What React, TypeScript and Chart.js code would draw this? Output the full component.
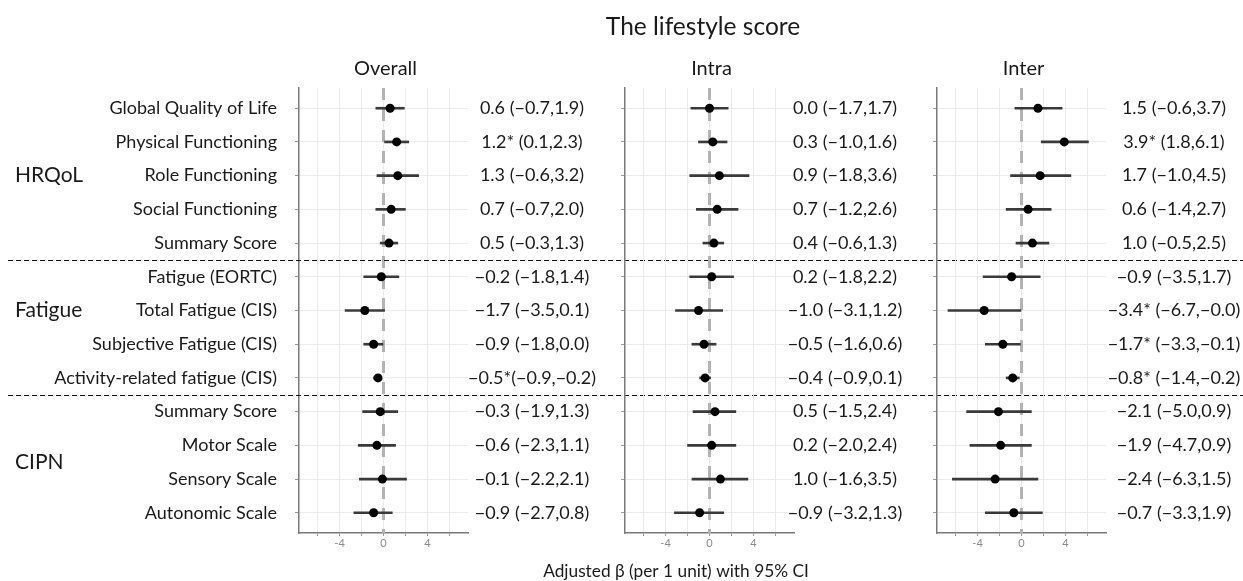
import React, { useEffect, useRef } from 'react';
import { Chart, registerables } from 'chart.js';

Chart.register(...registerables);

// ---------- data ----------
const outcomes = [
  'Global Quality of Life',
  'Physical Functioning',
  'Role Functioning',
  'Social Functioning',
  'Summary Score',
  'Fatigue (EORTC)',
  'Total Fatigue (CIS)',
  'Subjective Fatigue (CIS)',
  'Activity-related fatigue (CIS)',
  'Summary Score',
  'Motor Scale',
  'Sensory Scale',
  'Autonomic Scale',
];
const groupNames = ['HRQoL', 'Fatigue', 'CIPN'];
const groupLabelRows = [2, 6, 10.5];
const groupBreakRows = [4.5, 8.5];
const panelNames = ['Overall', 'Intra', 'Inter'];

const overallEst = [0.6, 1.2, 1.3, 0.7, 0.5, -0.2, -1.7, -0.9, -0.5, -0.3, -0.6, -0.1, -0.9];
const overallLow = [-0.7, 0.1, -0.6, -0.7, -0.3, -1.8, -3.5, -1.8, -0.9, -1.9, -2.3, -2.2, -2.7];
const overallHigh = [1.9, 2.3, 3.2, 2.0, 1.3, 1.4, 0.1, 0.0, -0.2, 1.3, 1.1, 2.1, 0.8];
const overallText = [
  '0.6 (−0.7,1.9)', '1.2* (0.1,2.3)', '1.3 (−0.6,3.2)', '0.7 (−0.7,2.0)', '0.5 (−0.3,1.3)',
  '−0.2 (−1.8,1.4)', '−1.7 (−3.5,0.1)', '−0.9 (−1.8,0.0)', '−0.5*(−0.9,−0.2)',
  '−0.3 (−1.9,1.3)', '−0.6 (−2.3,1.1)', '−0.1 (−2.2,2.1)', '−0.9 (−2.7,0.8)',
];

const intraEst = [0.0, 0.3, 0.9, 0.7, 0.4, 0.2, -1.0, -0.5, -0.4, 0.5, 0.2, 1.0, -0.9];
const intraLow = [-1.7, -1.0, -1.8, -1.2, -0.6, -1.8, -3.1, -1.6, -0.9, -1.5, -2.0, -1.6, -3.2];
const intraHigh = [1.7, 1.6, 3.6, 2.6, 1.3, 2.2, 1.2, 0.6, 0.1, 2.4, 2.4, 3.5, 1.3];
const intraText = [
  '0.0 (−1.7,1.7)', '0.3 (−1.0,1.6)', '0.9 (−1.8,3.6)', '0.7 (−1.2,2.6)', '0.4 (−0.6,1.3)',
  '0.2 (−1.8,2.2)', '−1.0 (−3.1,1.2)', '−0.5 (−1.6,0.6)', '−0.4 (−0.9,0.1)',
  '0.5 (−1.5,2.4)', '0.2 (−2.0,2.4)', '1.0 (−1.6,3.5)', '−0.9 (−3.2,1.3)',
];

const interEst = [1.5, 3.9, 1.7, 0.6, 1.0, -0.9, -3.4, -1.7, -0.8, -2.1, -1.9, -2.4, -0.7];
const interLow = [-0.6, 1.8, -1.0, -1.4, -0.5, -3.5, -6.7, -3.3, -1.4, -5.0, -4.7, -6.3, -3.3];
const interHigh = [3.7, 6.1, 4.5, 2.7, 2.5, 1.7, -0.0, -0.1, -0.2, 0.9, 0.9, 1.5, 1.9];
const interText = [
  '1.5 (−0.6,3.7)', '3.9* (1.8,6.1)', '1.7 (−1.0,4.5)', '0.6 (−1.4,2.7)', '1.0 (−0.5,2.5)',
  '−0.9 (−3.5,1.7)', '−3.4* (−6.7,−0.0)', '−1.7* (−3.3,−0.1)', '−0.8* (−1.4,−0.2)',
  '−2.1 (−5.0,0.9)', '−1.9 (−4.7,0.9)', '−2.4 (−6.3,1.5)', '−0.7 (−3.3,1.9)',
];

const xTickValues = [-6, -4, -2, 0, 2, 4, 6];
const xTickLabels = ['', '-4', '', '0', '', '4', ''];

const mainTitle = 'The lifestyle score';
const xAxisTitle = 'Adjusted β (per 1 unit) with 95% CI';

// ---------- layout / style ----------
const W = 1243;
const H = 581;
const X_MIN = -7.7;
const X_MAX = 7.7;
const Y_MIN = -0.6;
const Y_MAX = 12.6;
const PLOT_TOP = 88;
const PLOT_BOTTOM = 533;
const X_AXIS_H = 30;
const Y_AXIS_W = 4;
const FONT = 'Lato, "Open Sans", sans-serif';

const panels = [
  { est: overallEst, low: overallLow, high: overallHigh, text: overallText, left: 299, right: 468, textX: 532 },
  { est: intraEst, low: intraLow, high: intraHigh, text: intraText, left: 625, right: 794, textX: 845 },
  { est: interEst, low: interLow, high: interHigh, text: interText, left: 937, right: 1106, textX: 1174 },
];

function makePlugin(p: number) {
  const panel = panels[p];
  return {
    id: 'forestDecor' + p,
    beforeDatasetsDraw(chart: any) {
      const { ctx, chartArea, scales } = chart;
      const x0 = scales.x.getPixelForValue(0);
      ctx.save();
      ctx.strokeStyle = '#b3b3b3';
      ctx.lineWidth = 3;
      ctx.setLineDash([12, 9]);
      ctx.beginPath();
      ctx.moveTo(x0, chartArea.top);
      ctx.lineTo(x0, chartArea.bottom);
      ctx.stroke();
      ctx.restore();
    },
    afterDraw(chart: any) {
      const { ctx, chartArea, scales } = chart;
      const ys = scales.y;
      ctx.save();
      ctx.fillStyle = '#1a1a1a';
      ctx.textBaseline = 'middle';

      // panel title
      ctx.font = `20px ${FONT}`;
      ctx.textAlign = 'center';
      ctx.fillText(panelNames[p], (chartArea.left + chartArea.right) / 2 + 2, 69);

      // value texts
      ctx.font = `18px ${FONT}`;
      ctx.textAlign = 'center';
      panel.text.forEach((t, i) => ctx.fillText(t, panel.textX, ys.getPixelForValue(i)));

      if (p === 0) {
        // main title
        ctx.font = `24.5px ${FONT}`;
        ctx.textAlign = 'center';
        ctx.fillText(mainTitle, 703, 27);
        // x axis title
        ctx.font = `17.3px ${FONT}`;
        ctx.fillText(xAxisTitle, 676, 571);
        // row labels
        ctx.font = `18px ${FONT}`;
        ctx.textAlign = 'right';
        outcomes.forEach((o, i) => ctx.fillText(o, chartArea.left - 22, ys.getPixelForValue(i)));
        // group labels
        ctx.font = `21px ${FONT}`;
        ctx.textAlign = 'left';
        groupNames.forEach((g, i) => ctx.fillText(g, 15, ys.getPixelForValue(groupLabelRows[i])));
        // dashed separators
        ctx.strokeStyle = '#111';
        ctx.lineWidth = 1.2;
        ctx.setLineDash([5, 3]);
        groupBreakRows.forEach((r) => {
          const y = Math.round(ys.getPixelForValue(r)) + 0.5;
          ctx.beginPath();
          ctx.moveTo(8, y);
          ctx.lineTo(W, y);
          ctx.stroke();
        });
      }
      ctx.restore();
    },
  };
}

function ForestPanel({ p }: { p: number }) {
  const ref = useRef<HTMLCanvasElement | null>(null);
  useEffect(() => {
    const panel = panels[p];
    const chart = new Chart(ref.current as HTMLCanvasElement, {
      type: 'scatter',
      data: {
        datasets: [
          {
            type: 'scatter',
            data: panel.est.map((v, i) => ({ x: v, y: i })),
            pointRadius: 4.5,
            pointHoverRadius: 4.5,
            backgroundColor: '#000',
            borderColor: '#000',
            borderWidth: 0,
            order: 0,
          } as any,
          {
            type: 'bar',
            indexAxis: 'y',
            data: panel.low.map((lo, i) => ({ y: i, x: [lo, panel.high[i]] })),
            backgroundColor: '#3a3a3a',
            borderWidth: 0,
            barThickness: 2,
            order: 1,
          } as any,
        ],
      },
      options: {
        animation: false,
        responsive: false,
        devicePixelRatio: 1,
        events: [],
        layout: {
          padding: {
            left: panel.left - Y_AXIS_W,
            right: W - panel.right,
            top: PLOT_TOP,
            bottom: H - PLOT_BOTTOM - X_AXIS_H,
          },
        },
        plugins: { legend: { display: false }, tooltip: { enabled: false }, title: { display: false } },
        scales: {
          x: {
            type: 'linear',
            min: X_MIN,
            max: X_MAX,
            offset: false,
            afterBuildTicks: (s: any) => {
              s.ticks = xTickValues.map((v) => ({ value: v }));
            },
            afterFit: (s: any) => {
              s.height = X_AXIS_H;
            },
            grid: { offset: false, color: '#ebebeb', lineWidth: 1, tickLength: 3, tickColor: '#999' },
            border: { color: '#7a7a7a', width: 1.5 },
            ticks: {
              autoSkip: false,
              maxRotation: 0,
              padding: 1,
              color: '#8a8a8a',
              font: { family: FONT, size: 11 },
              callback: (_v: any, i: number) => xTickLabels[i],
            },
          },
          y: {
            type: 'linear',
            reverse: true,
            min: Y_MIN,
            max: Y_MAX,
            offset: false,
            afterBuildTicks: (s: any) => {
              s.ticks = outcomes.map((_o, i) => ({ value: i }));
            },
            afterFit: (s: any) => {
              s.width = Y_AXIS_W;
            },
            grid: { offset: false, color: '#ebebeb', lineWidth: 1, tickLength: 4, tickColor: '#999' },
            border: { color: '#7a7a7a', width: 1.5 },
            ticks: { display: false },
          },
        },
      } as any,
      plugins: [makePlugin(p)],
    });
    return () => chart.destroy();
  }, [p]);
  return (
    <canvas
      ref={ref}
      width={W}
      height={H}
      style={{ position: 'absolute', left: 0, top: 0, width: W, height: H }}
    />
  );
}

export default function App() {
  return (
    <div style={{ position: 'fixed', left: 0, top: 0, width: W, height: H, background: '#fff', overflow: 'hidden' }}>
      <ForestPanel p={0} />
      <ForestPanel p={1} />
      <ForestPanel p={2} />
    </div>
  );
}
